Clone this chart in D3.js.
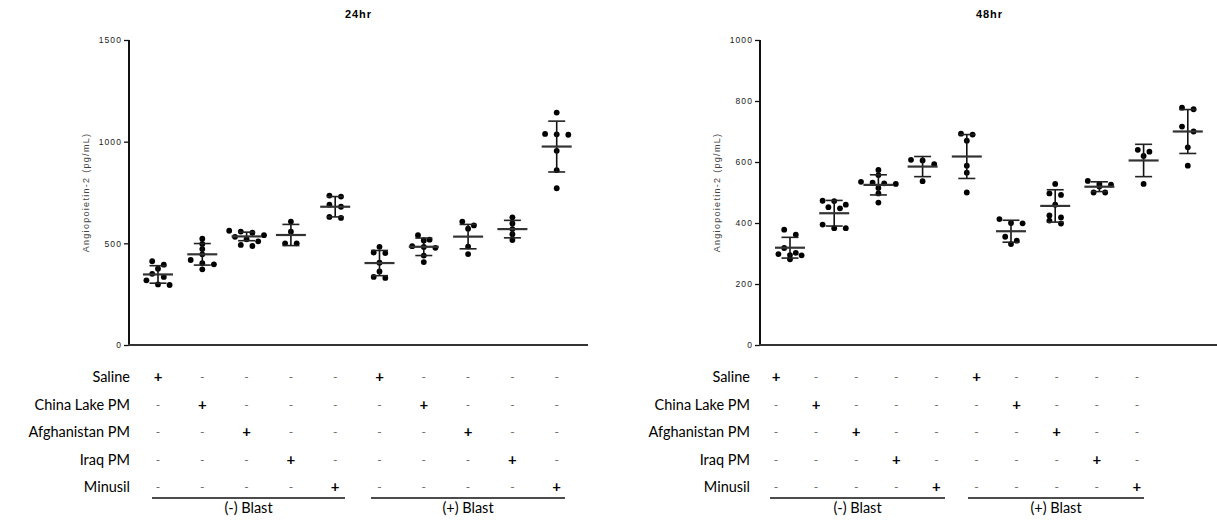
<!DOCTYPE html>
<html><head><meta charset="utf-8">
<script src="https://cdn.jsdelivr.net/npm/d3@7"></script>
<style>
body{margin:0;background:#fff;}
svg{display:block;}
</style></head>
<body>
<svg id="chart" width="1217" height="522"></svg>
<script>
// ---------- DATA ----------
const treatments = ["Saline", "China Lake PM", "Afghanistan PM", "Iraq PM", "Minusil"];
const blastGroups = ["(-) Blast", "(+) Blast"];
const groupIds = ["S-", "CL-", "AF-", "IQ-", "MN-", "S+", "CL+", "AF+", "IQ+", "MN+"];
const panelTitles = ["24hr", "48hr"];
const yLabel = "Angiopoietin-2 (pg/mL)";
const ticks24 = [0, 500, 1000, 1500];
const ticks48 = [0, 200, 400, 600, 800, 1000];

const points24 = [
  [412, 395, 375, 350, 335, 318, 298, 295],
  [523, 497, 472, 446, 418, 402, 397, 372],
  [562, 558, 552, 540, 532, 520, 510, 492, 487],
  [607, 557, 500, 500],
  [735, 730, 690, 680, 630, 625],
  [483, 455, 452, 405, 362, 335, 330],
  [540, 518, 514, 486, 482, 478, 440, 408],
  [607, 588, 572, 484, 447],
  [628, 598, 570, 545, 516],
  [1143, 1038, 1036, 1034, 955, 860, 771]
];
const mean24 = [347, 446, 534, 541, 680, 403, 483, 533, 570, 976];
const sd24 = [43, 53, 21, 52, 50, 62, 43, 60, 43, 125];

const points48 = [
  [378, 362, 318, 298, 295, 294, 302, 281],
  [473, 472, 460, 452, 448, 395, 383, 383],
  [574, 557, 532, 530, 528, 535, 515, 497, 467],
  [607, 605, 593, 537],
  [693, 690, 670, 588, 565, 500],
  [413, 400, 399, 355, 342, 331],
  [528, 497, 492, 460, 425, 418, 408, 398],
  [538, 528, 526, 520, 500, 500],
  [640, 634, 620, 528],
  [778, 773, 716, 700, 648, 588]
];
const mean48 = [319, 432, 525, 585, 618, 373, 456, 519, 605, 700];
const sd48 = [34, 42, 33, 33, 72, 36, 53, 16, 53, 72];

// ---------- LAYOUT ----------
const svg = d3.select("#chart");
const panels = [
  {title: panelTitles[0], pts: points24, mean: mean24, sd: sd24, ticks: ticks24, ymax: 1500,
   axisX: 129, x0: 158, step: 44.3, xEnd: 588,
   tLabelX: 130, tX0: 158, tStep: 44.3, ul: [[152, 345], [371, 565]]},
  {title: panelTitles[1], pts: points48, mean: mean48, sd: sd48, ticks: ticks48, ymax: 1000,
   axisX: 760, x0: 790, step: 44.2, xEnd: 1219,
   tLabelX: 750, tX0: 776, tStep: 40.1, ul: [[770, 945], [968, 1144]]}
];
const yTop = 40, yBot = 345;
const rowY = [377, 405, 432, 460, 487];
const tableFont = "Lato, 'Open Sans', sans-serif";
const axisFont = "Arial, 'Liberation Sans', sans-serif";

function swarm(vals, y, h, thresh) {
  const idx = vals.map((v, i) => i).sort((a, b) => vals[b] - vals[a]);
  const rows = [];
  idx.forEach(i => {
    const py = y(vals[i]);
    const r = rows[rows.length - 1];
    if (r && Math.abs(py - r.y0) < thresh) r.items.push(i);
    else rows.push({y0: py, items: [i]});
  });
  const off = new Array(vals.length).fill(0);
  rows.forEach(r => {
    const n = r.items.length;
    r.items.forEach((i, k) => { off[i] = (k - (n - 1) / 2) * 2 * h; });
  });
  return off;
}

panels.forEach(p => {
  const y = d3.scaleLinear().domain([0, p.ymax]).range([yBot, yTop]);
  const x = d3.scalePoint().domain(groupIds).range([p.x0, p.x0 + 9 * p.step]);
  const g = svg.append("g");

  // title
  g.append("text").attr("x", (p.axisX + p.xEnd) / 2).attr("y", 18)
    .attr("text-anchor", "middle").attr("font-family", axisFont)
    .attr("font-weight", "bold").attr("font-size", 11).attr("letter-spacing", 1).text(p.title);

  // y axis
  const ya = g.append("g").attr("transform", `translate(${p.axisX},0)`)
    .call(d3.axisLeft(y).tickValues(p.ticks).tickSize(5).tickPadding(2).tickFormat(d3.format("d")));
  ya.select(".domain").attr("stroke", "#111").attr("stroke-width", 2).attr("d", `M0,${yTop}V${yBot}`);
  ya.selectAll(".tick line").attr("stroke", "#111").attr("stroke-width", 1.3);
  ya.selectAll(".tick text").attr("font-family", axisFont)
    .attr("font-size", 8.5).attr("letter-spacing", 1.1).attr("fill", "#222");

  // x axis line
  g.append("line").attr("x1", p.axisX - 1).attr("x2", p.xEnd).attr("y1", yBot).attr("y2", yBot)
    .attr("stroke", "#333").attr("stroke-width", 2);

  // y label
  g.append("text").attr("transform", `translate(${p.axisX - 40},${(yTop + yBot) / 2}) rotate(-90)`)
    .attr("text-anchor", "middle").attr("font-family", axisFont)
    .attr("font-size", 9).attr("letter-spacing", 1.3).attr("fill", "#444").text(yLabel);

  // data
  groupIds.forEach((gid, gi) => {
    const cx = x(gid);
    const vals = p.pts[gi];
    const off = swarm(vals, y, 5.8, 5);
    g.selectAll(null).data(vals).enter().append("circle")
      .attr("cx", (d, i) => cx + off[i]).attr("cy", d => y(d)).attr("r", 2.9).attr("fill", "#000");
    const m = p.mean[gi], s = p.sd[gi];
    g.append("line").attr("x1", cx).attr("x2", cx).attr("y1", y(m + s)).attr("y2", y(m - s))
      .attr("stroke", "#111").attr("stroke-width", 1.6);
    [m + s, m - s].forEach(v => {
      g.append("line").attr("x1", cx - 8.5).attr("x2", cx + 8.5).attr("y1", y(v)).attr("y2", y(v))
        .attr("stroke", "#222").attr("stroke-width", 1.6);
    });
    g.append("line").attr("x1", cx - 15).attr("x2", cx + 15).attr("y1", y(m)).attr("y2", y(m))
      .attr("stroke", "#333").attr("stroke-width", 2.2);
  });

  // table
  const tx = d3.scalePoint().domain(groupIds).range([p.tX0, p.tX0 + 9 * p.tStep]);
  treatments.forEach((t, ri) => {
    g.append("text").attr("x", p.tLabelX).attr("y", rowY[ri]).attr("dy", "0.35em")
      .attr("text-anchor", "end").attr("font-family", tableFont).attr("font-size", 14.5)
      .attr("fill", "#000").text(t);
    groupIds.forEach((gid, gi) => {
      const on = (gi % 5) === ri;
      g.append("text").attr("x", tx(gid)).attr("y", rowY[ri]).attr("dy", "0.35em")
        .attr("text-anchor", "middle").attr("font-family", tableFont)
        .attr("font-size", on ? 15 : 12).attr("font-weight", on ? "bold" : "normal")
        .attr("fill", on ? "#000" : "#666").text(on ? "+" : "-");
    });
  });
  p.ul.forEach((u, bi) => {
    g.append("line").attr("x1", u[0]).attr("x2", u[1]).attr("y1", 498).attr("y2", 498)
      .attr("stroke", "#111").attr("stroke-width", 1.3);
    g.append("text").attr("x", (u[0] + u[1]) / 2).attr("y", 508).attr("dy", "0.35em")
      .attr("text-anchor", "middle").attr("font-family", tableFont).attr("font-size", 14.5)
      .attr("fill", "#000").text(blastGroups[bi]);
  });
});
</script>
</body></html>
